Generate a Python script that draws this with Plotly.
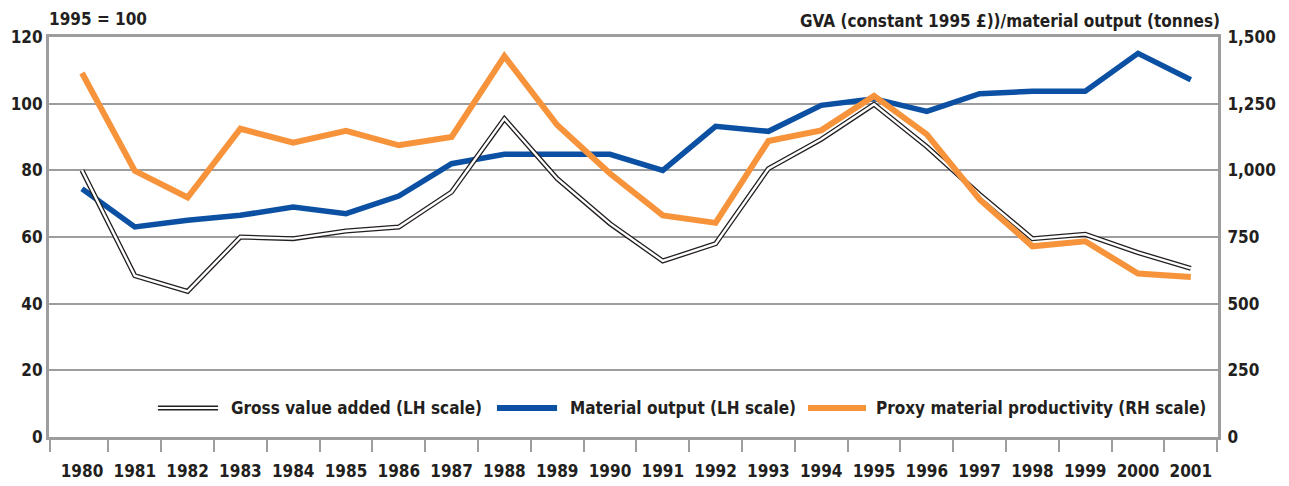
import plotly.graph_objects as go

years = list(range(1980, 2002))
year_labels = [str(y) for y in years]

gva = [80.0, 48.4, 43.7, 60.0, 59.5, 61.8, 63.0, 73.5, 95.5, 77.5, 64.0, 52.8,
       58.0, 80.5, 89.3, 99.8, 87.1, 72.8, 59.5, 60.8, 55.3, 50.6]
material = [74.5, 63.0, 65.0, 66.5, 69.0, 67.0, 72.3, 82.0, 84.8, 84.8, 84.8, 80.0,
             93.2, 91.7, 99.5, 101.5, 97.7, 103.0, 103.7, 103.7, 115.1, 107.2]
productivity = [1365, 998, 898, 1156, 1104, 1148, 1094, 1125, 1428, 1170, 988, 831,
                803, 1110, 1150, 1279, 1135, 891, 715, 734, 613, 600]

left_ticks = [0, 20, 40, 60, 80, 100, 120]
right_ticks = [0, 250, 500, 750, 1000, 1250, 1500]

legend_labels = ["Gross value added (LH scale)", "Material output (LH scale)",
                 "Proxy material productivity (RH scale)"]
left_title = "1995 = 100"
right_title = "GVA (constant 1995 £))/material output (tonnes)"

BLUE = "#0b50a3"
ORANGE = "#f7943b"
GREY = "#9d9d9f"
TXT = "#231f20"
FONT = "DejaVu Sans Condensed, Liberation Sans Narrow, sans-serif"
FS = 17

x_lo, x_hi = years[0] - 0.625, years[-1] + 0.515
# tick marks sit between the years and at both ends of the axis
boundary_ticks = [x_lo + 0.01] + [y + 0.5 for y in years[:-1]] + [x_hi - 0.01]

def f():
    return dict(family=FONT, size=FS, color=TXT, weight="bold")

fig = go.Figure()
fig.add_trace(go.Scatter(x=years, y=material, mode="lines",
                         line=dict(color=BLUE, width=5.5), showlegend=False))
fig.add_trace(go.Scatter(x=years, y=productivity, mode="lines", yaxis="y2",
                         line=dict(color=ORANGE, width=6), showlegend=False))
fig.add_trace(go.Scatter(x=years, y=gva, mode="lines",
                         line=dict(color="#231f20", width=5), showlegend=False))
fig.add_trace(go.Scatter(x=years, y=gva, mode="lines",
                         line=dict(color="white", width=2.4), showlegend=False))

# the page body adds an 8px offset, so the figure is sized to the remaining window
fig.update_layout(
    width=1281, height=478,
    margin=dict(l=41, r=71, t=29, b=49),
    paper_bgcolor="white", plot_bgcolor="white",
    font=dict(family=FONT, size=FS, color=TXT),
    showlegend=False,
    xaxis=dict(range=[x_lo, x_hi], tickmode="array", tickvals=years,
               ticktext=year_labels,
               ticks="outside", ticklen=12, tickwidth=2,
               tickcolor="rgba(0,0,0,0)",
               minor=dict(tickmode="array", tickvals=boundary_ticks,
                          ticks="outside", ticklen=12, tickwidth=2,
                          tickcolor=GREY, showgrid=False),
               showline=True, linecolor=GREY, linewidth=3, mirror=True,
               showgrid=False, zeroline=False, ticklabelstandoff=5,
               automargin=False, tickangle=0, tickfont=f()),
    yaxis=dict(range=[0, 120], tickvals=left_ticks, showgrid=True,
               gridcolor=GREY, gridwidth=2, zeroline=False, automargin=False,
               showline=True, linecolor=GREY, linewidth=3, ticks="",
               ticklabelstandoff=0, tickfont=f()),
    yaxis2=dict(range=[0, 1500], tickvals=right_ticks, tickformat=",",
                overlaying="y", side="right", showgrid=False, zeroline=False,
                showline=True, linecolor=GREY, linewidth=3, ticks="",
                ticklabelstandoff=3, automargin=False, tickfont=f()),
)

# axis titles
fig.add_annotation(text=left_title, xref="paper", yref="paper", x=-0.002, y=1.044,
                   xanchor="left", yanchor="middle", showarrow=False, font=f())
fig.add_annotation(text=right_title, xref="paper", yref="paper", x=1.003, y=1.04,
                   xanchor="right", yanchor="middle", showarrow=False, font=f())

# custom legend
ly = 0.0725
sym = [(0.0932, 0.1446), (0.3832, 0.4346), (0.6493, 0.6989)]
txt_x = [0.154, 0.444, 0.7057]
fig.add_shape(type="line", xref="paper", yref="paper", x0=sym[0][0], x1=sym[0][1],
              y0=ly, y1=ly, line=dict(color="#231f20", width=5))
fig.add_shape(type="line", xref="paper", yref="paper", x0=sym[0][0], x1=sym[0][1],
              y0=ly, y1=ly, line=dict(color="white", width=2.2))
fig.add_shape(type="line", xref="paper", yref="paper", x0=sym[1][0], x1=sym[1][1],
              y0=ly, y1=ly, line=dict(color=BLUE, width=6))
fig.add_shape(type="line", xref="paper", yref="paper", x0=sym[2][0], x1=sym[2][1],
              y0=ly, y1=ly, line=dict(color=ORANGE, width=6))
for tx, lab in zip(txt_x, legend_labels):
    fig.add_annotation(text=lab, xref="paper", yref="paper", x=tx, y=ly,
                       xanchor="left", yanchor="middle", showarrow=False, font=f())

fig.write_html("out.html")
